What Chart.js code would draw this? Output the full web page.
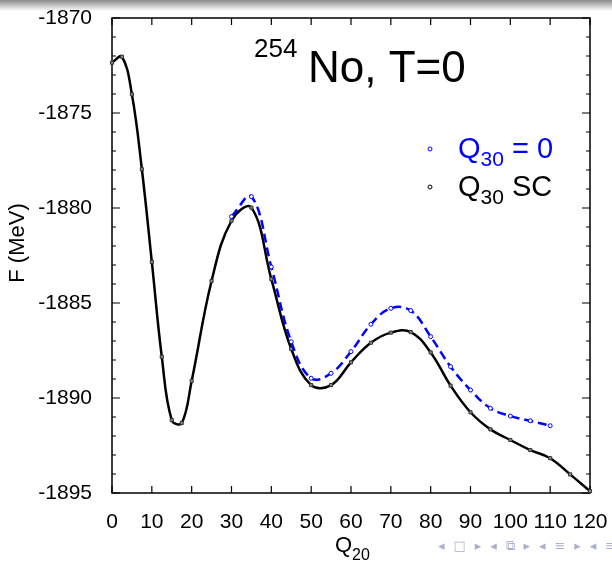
<!DOCTYPE html>
<html>
<head>
<meta charset="utf-8">
<script src="https://cdn.jsdelivr.net/npm/chart.js@4/dist/chart.umd.min.js"></script>
<style>
  html, body { margin: 0; padding: 0; background: #fff; }
  #wrap { position: relative; width: 612px; height: 563px; overflow: hidden; }
  #topbar { position: absolute; left: 0; top: 0; width: 612px; height: 11px;
            background: linear-gradient(#8c8c8c, #ffffff); }
  canvas { position: absolute; left: 0; top: 0; }
  #nav { position: absolute; left: 438px; top: 538px; font: 13px "DejaVu Sans", sans-serif;
         color: #a9b0cf; white-space: nowrap; letter-spacing: 2.4px; }
</style>
</head>
<body>
<div id="wrap">
  <div id="topbar"></div>
  <canvas id="c" width="612" height="563"></canvas>
  <div id="nav">◂ □ ▸ ◂ ⧉ ▸ ◂ ≡ ▸ ◂ ≡</div>
</div>
<script>
// Quadrupole moment Q20 (x) and free energy F in MeV (y)
const q20Sc = [0, 2.5, 5, 7.5, 10, 12.5, 15, 17.5, 20, 25, 30, 35, 40, 45, 50, 55,
               60, 65, 70, 75, 80, 85, 90, 95, 100, 105, 110, 115, 120];
const fSc = [-1872.35, -1872.04, -1874.02, -1877.96, -1882.84, -1887.83, -1891.16, -1891.32,
             -1889.1, -1883.84, -1880.67, -1879.98, -1883.74, -1887.42, -1889.32, -1889.32,
             -1888.12, -1887.09, -1886.56, -1886.53, -1887.6, -1889.35, -1890.75, -1891.65,
             -1892.21, -1892.74, -1893.17, -1894.02, -1894.9];

const q20Sym = [30, 35, 40, 45, 50, 55, 60, 65, 70, 75, 80, 85, 90, 95, 100, 105, 110];
const fSym = [-1880.45, -1879.4, -1883.1, -1887.04, -1888.96, -1888.7, -1887.56, -1886.12,
              -1885.28, -1885.4, -1886.77, -1888.35, -1889.58, -1890.54, -1890.95, -1891.2, -1891.46];

const xTicks = [0, 10, 20, 30, 40, 50, 60, 70, 80, 90, 100, 110, 120];
const yTicks = [-1895, -1890, -1885, -1880, -1875, -1870];

const toPoints = (xs, ys) => xs.map((x, i) => ({ x: x, y: ys[i] }));
const FONT = '"Liberation Sans", Arial, sans-serif';

// fixed axis sizes, no automatic label overhang padding
function fixScale(size) {
  return function (s) {
    if (s.isHorizontal()) s.height = size; else s.width = size;
    s.paddingTop = 0; s.paddingBottom = 0; s.paddingLeft = 0; s.paddingRight = 0;
  };
}

// frame with inward ticks on all four sides, plus title, legend and axis titles
const framePlugin = {
  id: 'frame',
  beforeDatasetsDraw(chart) {
    const { ctx, chartArea: a, scales: { x, y } } = chart;
    ctx.save();
    ctx.strokeStyle = '#000';
    ctx.lineWidth = 1.5;
    ctx.strokeRect(a.left, a.top, a.right - a.left, a.bottom - a.top);
    ctx.lineWidth = 1.2;
    ctx.beginPath();
    xTicks.forEach(v => {
      const px = x.getPixelForValue(v);
      ctx.moveTo(px, a.bottom); ctx.lineTo(px, a.bottom - 7);
      ctx.moveTo(px, a.top); ctx.lineTo(px, a.top + 7);
    });
    for (let v = yTicks[0]; v <= yTicks[yTicks.length - 1]; v += 1) {
      const py = y.getPixelForValue(v);
      const len = (v % 5 === 0) ? 8 : 4;
      ctx.moveTo(a.left, py); ctx.lineTo(a.left + len, py);
      ctx.moveTo(a.right, py); ctx.lineTo(a.right - len, py);
    }
    ctx.stroke();
    ctx.restore();
  },
  afterDraw(chart) {
    const { ctx } = chart;
    ctx.save();
    ctx.textBaseline = 'alphabetic';
    ctx.textAlign = 'left';
    ctx.fillStyle = '#000';

    // title: 254No, T=0
    ctx.font = '26px ' + FONT;
    ctx.fillText('254', 254, 57);
    ctx.font = '44px ' + FONT;
    ctx.fillText('No, T=0', 308, 82);

    // legend
    const legendRows = [
      { y: 158, color: '#0000ff', tail: ' = 0' },
      { y: 196, color: '#000000', tail: ' SC' }
    ];
    legendRows.forEach(r => {
      ctx.strokeStyle = r.color;
      ctx.lineWidth = 1;
      ctx.beginPath();
      ctx.arc(430, r.y - 9, 2, 0, Math.PI * 2);
      ctx.stroke();
      ctx.fillStyle = r.color;
      ctx.font = '29px ' + FONT;
      ctx.fillText('Q', 458, r.y);
      let w = ctx.measureText('Q').width;
      ctx.font = '21px ' + FONT;
      ctx.fillText('30', 458 + w, r.y + 8);
      w += ctx.measureText('30').width;
      ctx.font = '29px ' + FONT;
      ctx.fillText(r.tail, 458 + w, r.y);
    });

    // x axis title: Q20
    ctx.fillStyle = '#000';
    ctx.font = '22px ' + FONT;
    ctx.fillText('Q', 335, 552);
    const qw = ctx.measureText('Q').width;
    ctx.font = '16px ' + FONT;
    ctx.fillText('20', 335 + qw, 560);

    // y axis title
    ctx.translate(24, 243);
    ctx.rotate(-Math.PI / 2);
    ctx.textAlign = 'center';
    ctx.font = '22px ' + FONT;
    ctx.fillText('F (MeV)', 0, 0);
    ctx.restore();
  }
};

new Chart(document.getElementById('c'), {
  type: 'line',
  data: {
    datasets: [
      {
        label: 'Q30 = 0',
        data: toPoints(q20Sym, fSym),
        borderColor: '#0000ff',
        borderWidth: 2.5,
        borderDash: [9, 5],
        pointStyle: 'circle',
        pointRadius: 2,
        pointBorderWidth: 1,
        pointBorderColor: '#0000ff',
        pointBackgroundColor: '#ffffff',
        tension: 0.4,
        order: 0
      },
      {
        label: 'Q30 SC',
        data: toPoints(q20Sc, fSc),
        borderColor: '#000000',
        borderWidth: 2.5,
        pointStyle: 'rect',
        pointRadius: 2.2,
        pointBorderWidth: 1,
        pointBorderColor: '#333333',
        pointBackgroundColor: '#888888',
        tension: 0.4,
        order: 1
      }
    ]
  },
  options: {
    responsive: false,
    animation: false,
    devicePixelRatio: 1,
    clip: false,
    layout: { autoPadding: false, padding: { left: 0, right: 22, top: 18, bottom: 0 } },
    plugins: { legend: { display: false }, tooltip: { enabled: false }, title: { display: false } },
    scales: {
      x: {
        type: 'linear',
        min: 0, max: 120,
        grid: { display: false, drawTicks: false },
        border: { display: false },
        ticks: {
          stepSize: 10, autoSkip: false, maxRotation: 0,
          color: '#000', font: { family: FONT, size: 21 }, padding: 17,
          callback: v => String(v)
        },
        afterFit: fixScale(70)
      },
      y: {
        type: 'linear',
        min: -1895, max: -1870,
        grid: { display: false, drawTicks: false },
        border: { display: false },
        ticks: {
          stepSize: 5, color: '#000', font: { family: FONT, size: 21 }, padding: 20,
          callback: v => String(v)
        },
        afterFit: fixScale(112)
      }
    }
  },
  plugins: [framePlugin]
});
</script>
</body>
</html>
